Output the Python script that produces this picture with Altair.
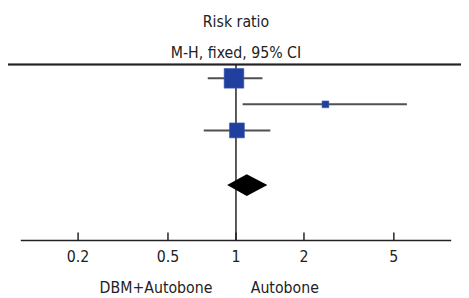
import altair as alt
import pandas as pd

# ---- data ----
studies = ["Study 1", "Study 2", "Study 3"]
rows = [1, 2, 3]
est = [0.98, 2.49, 1.01]
lo = [0.75, 1.07, 0.72]
hi = [1.31, 5.71, 1.42]
weights = [59.0, 7.0, 34.0]

pooled_row = 5.1
pooled_est = 1.116
pooled_lo = 0.914
pooled_hi = 1.377

tick_values = [0.2, 0.5, 1, 2, 5]
tick_labels = ["0.2", "0.5", "1", "2", "5"]
axis_limits = [0.1115, 8.97]
favours = ["DBM+Autobone", "Autobone"]
title_lines = ["Risk ratio", "M-H, fixed, 95% CI"]

# ---- styling constants ----
W, H = 438, 179
FONT = "DejaVu Sans Condensed"
FS = 16
BLUE = "#2040a0"
LINE = "#222222"
CI_COL = "#505050"
DIAMOND_HALF = 0.42
Y_DOMAIN = [0.472, 7.226]

studies_df = pd.DataFrame({"study": studies, "row": rows, "est": est,
                           "lo": lo, "hi": hi, "w": weights})
diamond_df = pd.DataFrame({
    "x": [pooled_lo, pooled_est, pooled_hi],
    "y": [pooled_row, pooled_row - DIAMOND_HALF, pooled_row],
    "y2": [pooled_row, pooled_row + DIAMOND_HALF, pooled_row],
})
ticks_df = pd.DataFrame({"t": [float(v) for v in tick_values], "lab": tick_labels})
axis_df = pd.DataFrame({"a0": [axis_limits[0]], "a1": [axis_limits[1]], "one": [1.0]})

xs = alt.Scale(type="log", domain=axis_limits, nice=False)
ys = alt.Scale(domain=Y_DOMAIN, reverse=True, nice=False, zero=False)
X = lambda f: alt.X(f, scale=xs, axis=None, title=None)
Y = lambda f: alt.Y(f, scale=ys, axis=None, title=None)

base = alt.Chart(studies_df)

top_line = base.mark_rule(color=LINE, strokeWidth=1.5).encode(
    y=alt.value(0), x=alt.value(-13), x2=alt.value(W + 10)
)

null_line = alt.Chart(axis_df).mark_rule(color=LINE, strokeWidth=1.5).encode(
    x=X("one:Q"), y=alt.value(0), y2=alt.value(H)
)

axis_line = alt.Chart(axis_df).mark_rule(color=LINE, strokeWidth=1.5).encode(
    x=X("a0:Q"), x2="a1:Q", y=alt.value(H)
)

tick_marks = alt.Chart(ticks_df).mark_rule(color=LINE, strokeWidth=1.5).encode(
    x=X("t:Q"), y=alt.value(H - 8), y2=alt.value(H)
)

tick_text = alt.Chart(ticks_df).mark_text(
    align="center", baseline="alphabetic", font=FONT, fontSize=FS, color="#222222"
).encode(x=X("t:Q"), y=alt.value(H + 22), text="lab:N")

ci = base.mark_rule(color=CI_COL, strokeWidth=2).encode(
    x=X("lo:Q"), x2="hi:Q", y=Y("row:Q"),
)

squares = base.mark_square(color=BLUE, opacity=1, stroke="#3a58b0", strokeWidth=0.6).encode(
    x=X("est:Q"),
    y=Y("row:Q"),
    size=alt.Size("w:Q", scale=alt.Scale(domain=[0, 100], range=[0, 678]), legend=None),
)

diamond = alt.Chart(diamond_df).mark_area(color="#000000", opacity=1).encode(
    x=X("x:Q"),
    y=alt.Y("y:Q", scale=ys, axis=None, title=None, stack=None),
    y2="y2:Q",
)

fav_df = pd.DataFrame({"label": favours, "anchor": [1.0, 1.0]})
fav_left = alt.Chart(fav_df.iloc[[0]]).mark_text(
    align="right", baseline="alphabetic", dx=-24, font=FONT, fontSize=FS, color="#222222"
).encode(x=X("anchor:Q"), y=alt.value(H + 53), text="label:N")
fav_right = alt.Chart(fav_df.iloc[[1]]).mark_text(
    align="left", baseline="alphabetic", dx=15, font=FONT, fontSize=FS, color="#222222"
).encode(x=X("anchor:Q"), y=alt.value(H + 53), text="label:N")

chart = alt.layer(
    top_line, null_line, axis_line, tick_marks, tick_text, ci, squares, diamond,
    fav_left, fav_right
).properties(
    width=W, height=H,
    title=alt.TitleParams(text=title_lines[0], subtitle=title_lines[1], anchor="middle",
                          font=FONT, fontSize=FS, fontWeight="normal", color="#222222",
                          subtitleFont=FONT, subtitleFontSize=FS, subtitleColor="#222222",
                          subtitlePadding=15, offset=3),
    autosize=alt.AutoSizeParams(type="none"),
    padding={"left": 13, "right": 10, "top": 55, "bottom": 56},
    background="white",
).configure_view(stroke=None)

chart.save("out.html", embed_options={"renderer": "svg", "actions": False})
